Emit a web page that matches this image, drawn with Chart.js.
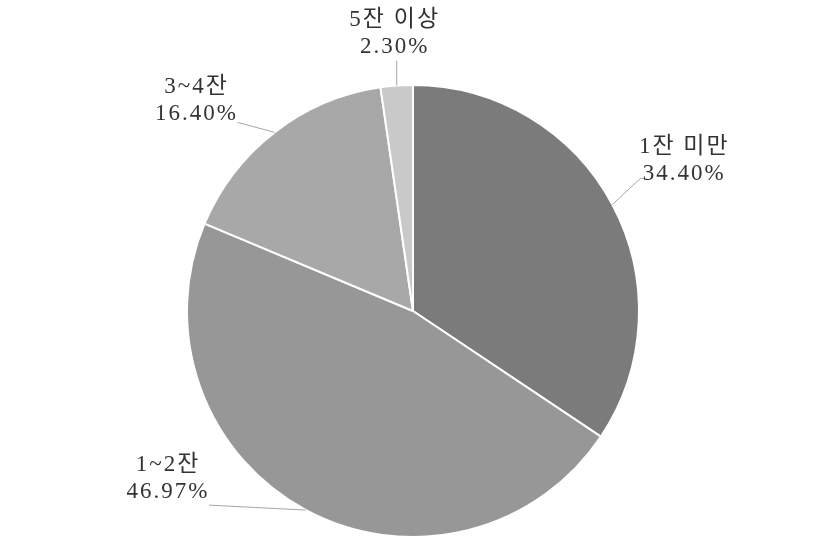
<!DOCTYPE html>
<html lang="ko">
<head>
<meta charset="UTF-8">
<title>음주량 분포</title>
<script src="https://cdn.jsdelivr.net/npm/chart.js@4"></script>
<style>
  html, body { margin: 0; padding: 0; background: #fff; }
  #wrap { width: 827px; height: 552px; }
</style>
</head>
<body>
<div id="wrap"><canvas id="pie" width="827" height="552"></canvas></div>
<script>
// data
const categories = ['1잔 미만', '1~2잔', '3~4잔', '5잔 이상'];
const shares = [34.40, 46.97, 16.40, 2.30];
const sliceColors = ['#7b7b7b', '#979797', '#a8a8a8', '#c9c9c9'];

// leader line vector from slice edge, then text center offset from line end
const leaderVec = [[28, -26], [-97, -5], [-37, -10], [0, -25]];
const leaderTail = [[4, 0], [0, 0], [0, 0], [0, 0]];
const textOffset = [[43, -19], [-42, -27], [-42, -22], [-3, -28]];

const outsideLabels = {
  id: 'outsideLabels',
  afterDatasetsDraw(chart) {
    const ctx = chart.ctx;
    const arcs = chart.getDatasetMeta(0).data;
    ctx.save();
    arcs.forEach((arc, i) => {
      const p = arc.getProps(['x', 'y', 'startAngle', 'endAngle', 'outerRadius'], true);
      const mid = (p.startAngle + p.endAngle) / 2;
      const ax = p.x + Math.cos(mid) * p.outerRadius;
      const ay = p.y + Math.sin(mid) * p.outerRadius;
      const ex = ax + leaderVec[i][0];
      const ey = ay + leaderVec[i][1];
      ctx.strokeStyle = '#a6a6a6';
      ctx.lineWidth = 1;
      ctx.beginPath();
      ctx.moveTo(ax, ay);
      ctx.lineTo(ex, ey);
      ctx.lineTo(ex + leaderTail[i][0], ey + leaderTail[i][1]);
      ctx.stroke();

      const tx = ex + textOffset[i][0];
      const ty = ey + textOffset[i][1];
      ctx.fillStyle = '#333';
      ctx.font = '23px "Liberation Serif", "Noto Sans CJK KR", serif';
      ctx.letterSpacing = '2px';
      ctx.textAlign = 'center';
      ctx.textBaseline = 'middle';
      ctx.fillText(categories[i], tx + 1, ty - 13);
      ctx.fillText(shares[i].toFixed(2) + '%', tx + 1, ty + 14);
    });
    ctx.restore();
  }
};

new Chart(document.getElementById('pie'), {
  type: 'pie',
  data: {
    labels: categories,
    datasets: [{
      data: shares,
      backgroundColor: sliceColors,
      borderColor: '#ffffff',
      borderWidth: 2
    }]
  },
  options: {
    responsive: false,
    animation: false,
    layout: { padding: { top: 84, bottom: 14, left: 186, right: 187 } },
    plugins: {
      legend: { display: false },
      tooltip: { enabled: false }
    }
  },
  plugins: [outsideLabels]
});
</script>
</body>
</html>
